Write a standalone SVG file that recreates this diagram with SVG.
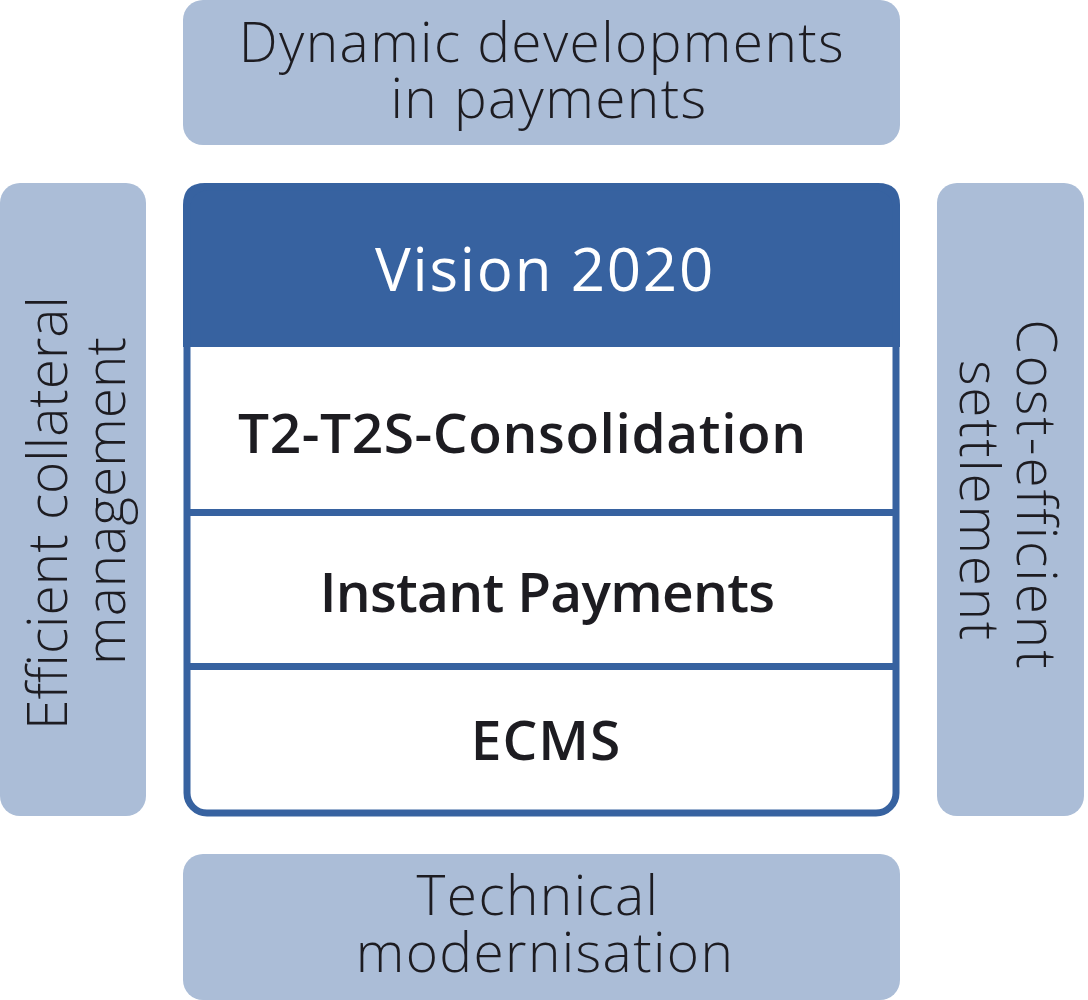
<svg xmlns="http://www.w3.org/2000/svg" width="1088" height="1000" viewBox="0 0 1088 1000">
<style>
.outer{fill:#abbdd7;}
.lt{font-family:"Open Sans","Noto Sans","Liberation Sans",sans-serif;font-weight:300;font-size:55px;fill:#1d1c21;text-anchor:middle;letter-spacing:1.4px;}
.md{font-family:"Open Sans","Noto Sans","Liberation Sans",sans-serif;font-weight:600;font-size:55px;fill:#1d1c21;}
.hd{font-family:"Open Sans","Noto Sans","Liberation Sans",sans-serif;font-weight:500;font-size:60px;fill:#ffffff;text-anchor:middle;letter-spacing:1.8px;}
.line{stroke:#3762a0;stroke-width:7;fill:none;}
</style>
<rect width="1088" height="1000" fill="#ffffff"/>
<g id="top">
<rect class="outer" x="183" y="0" width="717" height="145" rx="20"/>
<text class="lt" x="542" y="62">Dynamic developments</text>
<text class="lt" x="549" y="118">in payments</text>
</g>
<g id="left">
<rect class="outer" x="0" y="183" width="146" height="633" rx="20"/>
<text class="lt" transform="translate(67,513) rotate(-90)" style="letter-spacing:0">Efficient collateral</text>
<text class="lt" transform="translate(125,501) rotate(-90)" style="letter-spacing:0">management</text>
</g>
<g id="right">
<rect class="outer" x="937" y="183" width="147" height="633" rx="20"/>
<text class="lt" transform="translate(1017,495) rotate(90)" style="letter-spacing:2px">Cost-efficient</text>
<text class="lt" transform="translate(960,501) rotate(90)" style="letter-spacing:1.7px">settlement</text>
</g>
<g id="bottom">
<rect class="outer" x="183" y="854" width="717" height="146" rx="20"/>
<text class="lt" x="538" y="915">Technical</text>
<text class="lt" x="545" y="972">modernisation</text>
</g>
<g id="vision">
<rect x="187" y="187" width="709" height="626" rx="20" fill="#ffffff"/>
<path d="M183,347 V205 Q183,183 205,183 H878 Q900,183 900,205 V347 Z" fill="#3762a0"/>
<rect class="line" x="187" y="187" width="709" height="626" rx="20"/>
<text class="hd" x="545" y="291">Vision 2020</text>
</g>
<g id="t2t2s">
<text class="md" x="238" y="453" style="letter-spacing:0.6px">T2-T2S-Consolidation</text>
</g>
<g id="ip">
<text class="md" x="547" y="612" text-anchor="middle" style="letter-spacing:-0.7px">Instant Payments</text>
</g>
<g id="ecms">
<text class="md" x="546" y="760" text-anchor="middle" style="letter-spacing:1px">ECMS</text>
</g>
<g id="connectors">
<line class="line" x1="187" y1="512.5" x2="896" y2="512.5"/>
<line class="line" x1="187" y1="666.5" x2="896" y2="666.5"/>
</g>
</svg>
